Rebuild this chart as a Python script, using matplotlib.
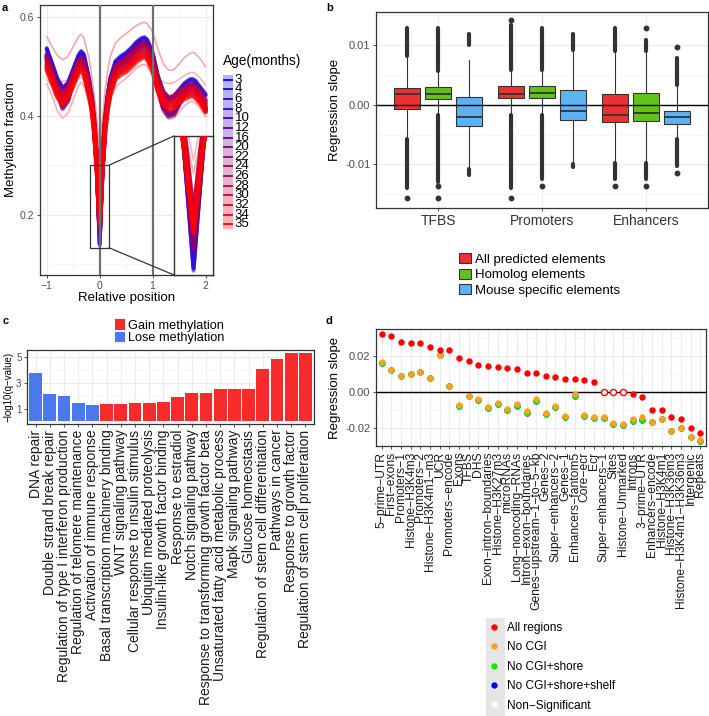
import numpy as np
import matplotlib
matplotlib.use('Agg')
import matplotlib.pyplot as plt
from matplotlib.patches import Rectangle, Patch, ConnectionPatch
from matplotlib.lines import Line2D
from matplotlib.colors import LinearSegmentedColormap

plt.rcParams['font.family'] = ['Liberation Sans', 'DejaVu Sans']
plt.rcParams['axes.unicode_minus'] = True

# ---------------- panel a: methylation profiles ----------------
pos = [-1.0, -0.9, -0.8, -0.7, -0.6, -0.5, -0.4, -0.35, -0.3, -0.2, -0.15, -0.1, -0.05,
       0.0, 0.05, 0.1, 0.15, 0.2, 0.3, 0.4, 0.5, 0.6, 0.7, 0.8, 0.85, 0.9, 1.0, 1.1,
       1.2, 1.3, 1.4, 1.5, 1.6, 1.7, 1.75, 1.8, 1.9, 2.0]
meth_young = [0.535, 0.505, 0.474, 0.455, 0.465, 0.493, 0.521, 0.529, 0.523, 0.473, 0.436, 0.378, 0.285,
              0.140, 0.285, 0.382, 0.438, 0.475, 0.509, 0.519, 0.526, 0.536, 0.548, 0.556, 0.557, 0.552, 0.526, 0.479,
              0.447, 0.434, 0.437, 0.451, 0.464, 0.472, 0.473, 0.470, 0.456, 0.442]
meth_mid = [0.520, 0.487, 0.450, 0.418, 0.433, 0.475, 0.510, 0.515, 0.508, 0.458, 0.426, 0.372, 0.290,
            0.165, 0.290, 0.378, 0.430, 0.463, 0.497, 0.507, 0.515, 0.527, 0.538, 0.545, 0.546, 0.541, 0.512, 0.458,
            0.418, 0.402, 0.405, 0.425, 0.446, 0.458, 0.460, 0.456, 0.436, 0.412]
meth_old = [0.505, 0.478, 0.450, 0.435, 0.447, 0.473, 0.498, 0.502, 0.496, 0.452, 0.425, 0.375, 0.300,
            0.195, 0.300, 0.378, 0.425, 0.455, 0.488, 0.496, 0.502, 0.512, 0.522, 0.529, 0.530, 0.526, 0.503, 0.462,
            0.436, 0.425, 0.428, 0.438, 0.446, 0.451, 0.452, 0.449, 0.437, 0.420]
pink_hi = [0.560, 0.540, 0.522, 0.513, 0.520, 0.540, 0.560, 0.565, 0.558, 0.515, 0.480, 0.440, 0.390,
           0.330, 0.390, 0.450, 0.490, 0.520, 0.548, 0.558, 0.566, 0.575, 0.583, 0.588, 0.589, 0.586, 0.570, 0.535,
           0.505, 0.492, 0.493, 0.505, 0.518, 0.526, 0.528, 0.526, 0.515, 0.499]
pink_flat = [0.472, 0.462, 0.462, 0.470, 0.472, 0.474, 0.478, 0.478, 0.474, 0.445, 0.420, 0.380, 0.330,
             0.270, 0.330, 0.380, 0.420, 0.448, 0.470, 0.478, 0.485, 0.492, 0.500, 0.503, 0.503, 0.500, 0.488, 0.475,
             0.468, 0.465, 0.467, 0.474, 0.482, 0.487, 0.488, 0.486, 0.476, 0.462]
pink_lo = [0.465, 0.440, 0.410, 0.395, 0.405, 0.432, 0.460, 0.468, 0.462, 0.425, 0.400, 0.360, 0.310,
           0.255, 0.310, 0.360, 0.400, 0.432, 0.458, 0.468, 0.476, 0.486, 0.497, 0.503, 0.504, 0.500, 0.480, 0.435,
           0.405, 0.393, 0.395, 0.407, 0.420, 0.428, 0.429, 0.426, 0.414, 0.398]
ages = [3, 4, 6, 8, 10, 12, 16, 20, 22, 24, 26, 28, 30, 32, 34, 35]
age_curve = ['young'] * 4 + ['mid'] * 6 + ['old'] * 6
age_offset = [0.002, 0.0, -0.002, 0.001, 0.004, 0.0, -0.004, 0.003, -0.002, 0.001,
              0.012, 0.007, 0.002, -0.003, -0.008, -0.012]

# ---------------- panel b: regression slope boxplots ----------------
b_cats = ['TFBS', 'Promoters', 'Enhancers']
b_groups = ['All predicted elements', 'Homolog elements', 'Mouse specific elements']
# order: TFBS(all, homolog, mouse), Promoters(...), Enhancers(...)
box_q1 = [-0.0007, 0.00095, -0.0036, 0.0011, 0.0011, -0.0025, -0.0029, -0.0028, -0.0032]
box_med = [0.0017, 0.0017, -0.0021, 0.0018, 0.0019, -0.0011, -0.0017, -0.0014, -0.0021]
box_q3 = [0.0028, 0.0030, 0.0012, 0.0032, 0.0032, 0.0024, 0.0017, 0.0019, -0.0011]
whis_lo = [-0.0058, -0.0017, -0.0106, -0.0017, -0.0017, -0.0100, -0.0097, -0.0097, -0.0058]
whis_hi = [0.0081, 0.0056, 0.0075, 0.0058, 0.0058, 0.0092, 0.0089, 0.0089, 0.0033]
flier_hi_start = [0.0081, 0.0056, 0.0100, 0.0058, 0.0058, 0.0092, 0.0089, 0.0089, 0.0033]
flier_hi_end = [0.0128, 0.0128, 0.0119, 0.0133, 0.0128, 0.0119, 0.0128, 0.0108, 0.0078]
flier_lo_start = [-0.0058, -0.0017, -0.0108, -0.0017, -0.0017, -0.0100, -0.0097, -0.0097, -0.0058]
flier_lo_end = [-0.0139, -0.0130, -0.0117, -0.0139, -0.0125, -0.0104, -0.0125, -0.0125, -0.0103]
flier_box = [0, 1, 1, 3, 3, 4, 6, 7, 7, 8, 8]
flier_val = [-0.0157, -0.0137, -0.0157, 0.0142, -0.0157, -0.0137, -0.0136, 0.0128, -0.0136, 0.0097, -0.0114]

# ---------------- panel c: enrichment bars ----------------
go_terms = ['DNA repair', 'Double strand break repair', 'Regulation of type I interferon production',
            'Regulation of telomere maintenance', 'Activation of immune response',
            'Basal transcription machinery binding', 'WNT signaling pathway',
            'Cellular response to insulin stimulus', 'Ubiquitin mediated proteolysis',
            'Insulin-like growth factor binding', 'Response to estradiol', 'Notch signaling pathway',
            'Response to transforming growth factor beta', 'Unsaturated fatty acid metabolic process',
            'Mapk signaling pathway', 'Glucose homeostasis', 'Regulation of stem cell differentiation',
            'Pathways in cancer', 'Response to growth factor', 'Regulation of stem cell proliferation']
go_qval = [3.76, 2.14, 2.01, 1.44, 1.28, 1.36, 1.36, 1.44, 1.44, 1.54, 1.88, 2.19, 2.26,
           2.57, 2.57, 2.57, 4.10, 4.85, 5.31, 5.31]
go_dir = ['Lose'] * 5 + ['Gain'] * 15

# ---------------- panel d: regression slope per region ----------------
regions = ['5−prime−UTR', 'First−exons', 'Promoters−1', 'Histone−H3K4m3', 'Promoters−2',
           'Histone−H3K4m1−m3', 'UCR', 'Promoters−encode', 'Exons', 'TFBS', 'DHS',
           'Exon−intron−boundaries', 'Histone−H3K27m3', 'microRNAs', 'Long−noncoding−RNAs',
           'Intron−exon−boundaries', 'Genes−upstream−1−to−5−kb', 'Genes−2', 'Super−enhancers−2',
           'Genes−1', 'Enhancers−fantom5', 'Core−ecr', 'Ecr', 'Super−enhancers−1', 'Sites',
           'Histone−Unmarked', 'Introns', '3−prime−UTR', 'Enhancers−encode', 'Histone−H3K4m1',
           'Histone−H3K36m3', 'Histone−H3K4m1−H3K36m3', 'Intergenic', 'Repeats']
slope_all = [0.0320, 0.0309, 0.0275, 0.0273, 0.0270, 0.0251, 0.0235, 0.0233, 0.0190, 0.0170, 0.0149,
             0.0144, 0.0140, 0.0130, 0.0127, 0.0102, 0.0102, 0.0090, 0.0080, 0.0071, 0.0069, 0.0063,
             0.0052, 0.0, 0.0, 0.0, -0.0011, -0.0032, -0.0101, -0.0101, -0.0140, -0.0153, -0.0203, -0.0228]
all_signif = [1] * 23 + [0, 0, 0] + [1] * 8
slope_nocgi = [0.0164, 0.0121, 0.0086, 0.0099, 0.0110, 0.0076, 0.0205, 0.0032, -0.0076, -0.0022, -0.0041,
               -0.0084, -0.0063, -0.0099, -0.0069, -0.0108, -0.0039, -0.0117, -0.0080, -0.0134, -0.0015,
               -0.0128, -0.0140, -0.0140, -0.0173, -0.0179, -0.0154, -0.0143, -0.0169, -0.0153, -0.0218,
               -0.0200, -0.0251, -0.0272]
slope_shore = [0.0163, 0.0120, 0.0085, 0.0098, 0.0109, 0.0075, 0.0204, 0.0031, -0.0080, -0.0023, -0.0047,
               -0.0090, -0.0071, -0.0100, -0.0080, -0.0117, -0.0052, -0.0123, -0.0088, -0.0140, -0.0022,
               -0.0133, -0.0147, -0.0149, -0.0182, -0.0188, -0.0166, -0.0158, -0.0170, -0.0154, -0.0219,
               -0.0201, -0.0252, -0.0273]
slope_shelf = [0.0163, 0.0120, 0.0085, 0.0098, 0.0109, 0.0075, 0.0204, 0.0031, -0.0080, -0.0023, -0.0047,
               -0.0090, -0.0071, -0.0100, -0.0080, -0.0117, -0.0052, -0.0123, -0.0088, -0.0140, -0.0022,
               -0.0133, -0.0147, -0.0149, -0.0182, -0.0188, -0.0166, -0.0158, -0.0170, -0.0154, -0.0219,
               -0.0201, -0.0252, -0.0273]

W, H = 709, 716
GRID = '#EBEBEB'
TICKC = '#4D4D4D'


def px_box(l, t, r, b):
    return [l / W, 1 - b / H, (r - l) / W, (b - t) / H]


def gg_style(ax, tick_size):
    ax.set_facecolor('white')
    for s in ax.spines.values():
        s.set_color('#333333')
        s.set_linewidth(0.9)
    ax.grid(True, which='major', color=GRID, lw=0.8)
    ax.grid(True, which='minor', color='#F4F4F4', lw=0.5)
    ax.set_axisbelow(True)
    ax.tick_params(which='major', color='#333333', labelcolor=TICKC, length=2.5, width=0.6,
                   labelsize=tick_size, pad=1.5)
    ax.tick_params(which='minor', length=0)


fig = plt.figure(figsize=(W / 100, H / 100), dpi=100)

# ---------------- panel a ----------------
ax_a = fig.add_axes(px_box(40, 5, 213, 275))
gg_style(ax_a, 7.5)
cmap = LinearSegmentedColormap.from_list('age', ['#0000FF', '#FF0000'])
curves = {'young': np.array(meth_young), 'mid': np.array(meth_mid), 'old': np.array(meth_old)}
line_alpha = {'young': 0.5, 'mid': 0.55, 'old': 0.75}
line_width = {'young': 2.8, 'mid': 3.2, 'old': 3.4}
age_colors = [cmap(i / (len(ages) - 1)) for i in range(len(ages))]

axins = ax_a.inset_axes([0.775, 0.0, 0.225, 0.515])
for ax in (ax_a, axins):
    ax.plot(pos, pink_hi, color='#F5A8A8', lw=1.2, zorder=2)
    ax.plot(pos, pink_flat, color='#F7B8B8', lw=1.2, zorder=2)
    ax.plot(pos, pink_lo, color='#F5B0B0', lw=1.2, zorder=2)
    for i, age in enumerate(ages):
        grp = age_curve[i]
        ax.plot(pos, curves[grp] + age_offset[i], color=age_colors[i],
                lw=line_width[grp], alpha=line_alpha[grp], solid_capstyle='round', zorder=3)
ax_a.axvline(0, color='#707070', lw=1.6, zorder=5)
ax_a.axvline(1, color='#707070', lw=1.6, zorder=5)
ax_a.set_xlim(-1.127, 2.14)
ax_a.set_ylim(0.078, 0.624)
ax_a.set_xticks([-1, 0, 1, 2])
ax_a.set_xticklabels(['−1', '0', '1', '2'])
ax_a.set_xticks([-0.5, 0.5, 1.5], minor=True)
ax_a.set_yticks([0.2, 0.4, 0.6])
ax_a.set_yticklabels(['0.2', '0.4', '0.6'])
ax_a.set_yticks([0.1, 0.3, 0.5], minor=True)
ax_a.set_xlabel('Relative position', fontsize=9.5, labelpad=1)
ax_a.set_ylabel('Methylation fraction', fontsize=9.5, labelpad=2)

zoom_x0, zoom_x1, zoom_y0, zoom_y1 = -0.19, 0.175, 0.133, 0.30
axins.set_xlim(-0.1, 0.1)
axins.set_ylim(zoom_y0, zoom_y1)
axins.set_xticks([])
axins.set_yticks([])
for s in axins.spines.values():
    s.set_color('#333333')
    s.set_linewidth(1.0)
ax_a.add_patch(Rectangle((zoom_x0, zoom_y0), zoom_x1 - zoom_x0, zoom_y1 - zoom_y0,
                         fill=False, ec='#333333', lw=0.9, zorder=6))
for ya, yb in [(zoom_y1, 1), (zoom_y0, 0)]:
    fig.add_artist(ConnectionPatch(xyA=(zoom_x1, ya), coordsA=ax_a.transData,
                                   xyB=(0, yb), coordsB=axins.transAxes,
                                   color='#333333', lw=0.9))

# legend of panel a
leg_ax = fig.add_axes(px_box(223, 75, 233, 229))
leg_ax.set_xlim(0, 1)
leg_ax.set_ylim(len(ages), 0)
leg_ax.axis('off')
for i, age in enumerate(ages):
    leg_ax.add_patch(Rectangle((0, i), 1, 1, fc=age_colors[i], alpha=0.3, ec='none'))
    leg_ax.plot([0.1, 0.9], [i + 0.5, i + 0.5], color=age_colors[i], lw=1.3)
    leg_ax.text(1.15, i + 0.5, str(age), fontsize=9.5, va='center', ha='left',
                transform=leg_ax.transData)
fig.text(223 / W, 1 - 61 / H, 'Age(months)', fontsize=9.8, va='center', ha='left')

# ---------------- panel b ----------------
ax_b = fig.add_axes(px_box(376, 12, 708, 208))
gg_style(ax_b, 8)
box_colors = ['#EE3030', '#5EC41C', '#5BB3F5']
n_g = len(b_groups)
bx_pos = [k + 1 + (j - 1) * 0.3 for k in range(len(b_cats)) for j in range(n_g)]
stats = [dict(med=box_med[i], q1=box_q1[i], q3=box_q3[i], whislo=whis_lo[i], whishi=whis_hi[i],
              fliers=[]) for i in range(len(box_med))]
ax_b.vlines(bx_pos, flier_hi_start, flier_hi_end, color='#333333', lw=3.0, capstyle='round', zorder=2)
ax_b.vlines(bx_pos, flier_lo_start, flier_lo_end, color='#333333', lw=3.0, capstyle='round', zorder=2)
ax_b.plot([bx_pos[i] for i in flier_box], flier_val, 'o', color='#333333', ms=3.2, zorder=2)
bp = ax_b.bxp(stats, positions=bx_pos, widths=0.25, patch_artist=True, showfliers=False, showcaps=False,
              boxprops=dict(edgecolor='#333333', lw=0.8),
              medianprops=dict(color='#333333', lw=1.3),
              whiskerprops=dict(color='#333333', lw=0.8), manage_ticks=False)
for i, patch in enumerate(bp['boxes']):
    patch.set_facecolor(box_colors[i % n_g])
    patch.set_zorder(3)
for m in bp['medians']:
    m.set_zorder(4)
ax_b.axhline(0, color='black', lw=1.0, zorder=5)
ax_b.set_xlim(0.4, 3.6)
ax_b.set_ylim(-0.0173, 0.0155)
ax_b.set_xticks([1, 2, 3])
ax_b.set_xticklabels(b_cats, fontsize=10, color='#333333')
ax_b.set_yticks([-0.01, 0, 0.01])
ax_b.set_yticklabels(['-0.01', '0.00', '0.01'])
ax_b.set_yticks([-0.015, -0.005, 0.005, 0.015], minor=True)
ax_b.set_ylabel('Regression slope', fontsize=9.5, labelpad=3)
fig.legend(handles=[Patch(fc=c, ec='#333333', lw=0.8, label=l) for c, l in zip(box_colors, b_groups)],
           loc='upper left', bbox_to_anchor=(459 / W, 1 - 253 / H), frameon=False, fontsize=9.5,
           handlelength=0.9, handleheight=0.8, handletextpad=0.3, labelspacing=0.22,
           borderpad=0, borderaxespad=0)

# ---------------- panel c ----------------
ax_c = fig.add_axes(px_box(27, 350, 314, 424))
gg_style(ax_c, 7)
dir_color = {'Gain': '#F72B2B', 'Lose': '#4A79EE'}
xc = np.arange(1, len(go_terms) + 1)
ax_c.bar(xc, go_qval, width=0.9, color=[dir_color[d] for d in go_dir], zorder=2)
ax_c.set_xlim(0.4, len(go_terms) + 0.6)
ax_c.set_ylim(-0.2, 5.58)
ax_c.set_yticks([1, 3, 5])
ax_c.set_yticks([0, 2, 4], minor=True)
ax_c.set_xticks(xc)
ax_c.set_xticklabels(go_terms, rotation=90, fontsize=10, color='#1A1A1A')
ax_c.set_ylabel('−log10(q−value)', fontsize=7, labelpad=2)
fig.legend(handles=[Patch(fc=dir_color['Gain'], label='Gain methylation'),
                    Patch(fc=dir_color['Lose'], label='Lose methylation')],
           loc='upper left', bbox_to_anchor=(115 / W, 1 - 319 / H), frameon=False, fontsize=9.2,
           handlelength=0.8, handleheight=0.9, handletextpad=0.25, labelspacing=0.0,
           borderpad=0, borderaxespad=0)

# ---------------- panel d ----------------
ax_d = fig.add_axes(px_box(376, 329, 706, 446))
gg_style(ax_d, 8)
xd = np.arange(1, len(regions) + 1)
ax_d.plot(xd, slope_shelf, 'o', color='#0000FF', ms=4.6, mec='none', zorder=3)
ax_d.plot(xd, slope_shore, 'o', color='#00EE00', ms=4.6, mec='none', zorder=3)
ax_d.plot(xd, slope_nocgi, 'o', color='#F9A21B', ms=4.6, mec='none', zorder=3)
sig = np.array(all_signif) == 1
ax_d.plot(xd[sig], np.array(slope_all)[sig], 'o', color='#FF0000', ms=4.6, mec='none', zorder=4)
ax_d.plot(xd[~sig], np.array(slope_all)[~sig], 'o', mfc='white', mec='#FF0000', mew=1.0, ms=4.4,
          zorder=4)
ax_d.axhline(0, color='black', lw=1.0, zorder=2)
ax_d.set_xlim(0.4, len(regions) + 0.6)
ax_d.set_ylim(-0.0303, 0.035)
ax_d.set_xticks(xd)
ax_d.set_xticklabels(regions, rotation=90, fontsize=8.7, color='#1A1A1A')
ax_d.set_yticks([-0.02, 0, 0.02])
ax_d.set_yticklabels(['-0.02', '0.00', '0.02'])
ax_d.set_yticks([-0.01, 0.01, 0.03], minor=True)
ax_d.set_ylabel('Regression slope', fontsize=9.5, labelpad=3)

fig.add_artist(Rectangle((486 / W, 0), 19 / W, 1 - 618 / H, transform=fig.transFigure,
                         fc='#E5E5E5', ec='none', zorder=0))
d_labels = ['All regions', 'No CGI', 'No CGI+shore', 'No CGI+shore+shelf', 'Non−Significant']
d_colors = ['#FF0000', '#F9A21B', '#00EE00', '#0000FF', 'white']
fig.legend(handles=[Line2D([], [], ls='', marker='o', ms=4.6, color=c, mec='none', label=l)
                    for c, l in zip(d_colors, d_labels)],
           loc='upper left', bbox_to_anchor=(488 / W, 1 - 622 / H), frameon=False, fontsize=8.6,
           handlelength=1.0, handletextpad=0.6, labelspacing=0.62, borderpad=0, borderaxespad=0)

# panel letters
for letter, x, y in [('a', 2, 8), ('b', 326, 8), ('c', 3, 321), ('d', 326, 321)]:
    fig.text(x / W, 1 - y / H, letter, fontsize=8, fontweight='bold', va='center', ha='left')

fig.savefig('out.png', dpi=100)
